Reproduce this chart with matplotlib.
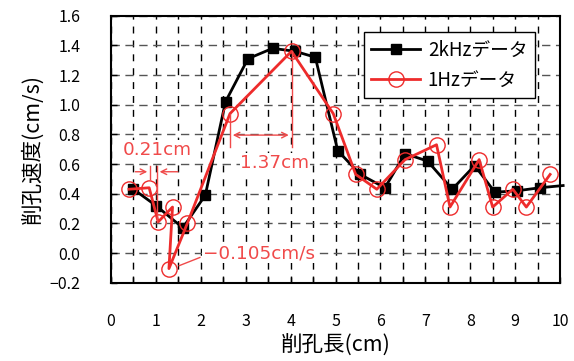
import matplotlib
matplotlib.use("Agg")
import matplotlib.pyplot as plt
from matplotlib.ticker import MultipleLocator

plt.rcParams["font.family"] = ["Noto Sans CJK JP", "DejaVu Sans"]
plt.rcParams["axes.unicode_minus"] = False

# 2kHz data (black squares)
x_2k = [0.5, 1.0, 1.6, 2.1, 2.55, 3.05, 3.6, 4.1, 4.55, 5.05, 5.55, 6.1,
        6.55, 7.05, 7.6, 8.1, 8.55, 9.05, 9.55, 10.07]
y_2k = [0.43, 0.32, 0.17, 0.39, 1.02, 1.31, 1.38, 1.36, 1.32, 0.69, 0.53, 0.44,
        0.67, 0.62, 0.43, 0.59, 0.41, 0.42, 0.44, 0.455]

# 1Hz data (red open circles)
x_1h = [0.4, 0.85, 1.05, 1.37, 1.29, 1.7, 2.65, 4.02, 4.95, 5.45, 5.92,
        6.55, 7.25, 7.55, 8.2, 8.5, 8.95, 9.25, 9.78]
y_1h = [0.43, 0.44, 0.21, 0.31, -0.105, 0.2, 0.94, 1.36, 0.94, 0.53, 0.43,
        0.63, 0.73, 0.31, 0.63, 0.31, 0.43, 0.31, 0.53]

x_ticks = list(range(0, 11))
y_ticks = [-0.2, 0.0, 0.2, 0.4, 0.6, 0.8, 1.0, 1.2, 1.4, 1.6]

RED = "#ee2b2b"
ANN = "#f04a4a"
ANN_FONT = dict(color=ANN, fontsize=13.2, family="DejaVu Sans", zorder=7,
                bbox=dict(facecolor="white", edgecolor="none", pad=0.5))

fig = plt.figure(figsize=(5.74, 3.61), dpi=100)
ax = fig.add_axes([0.1934, 0.2169, 0.7822, 0.7396])

ax.plot(x_2k, y_2k, color="black", lw=2, marker="s", markersize=7,
        markevery=list(range(len(x_2k) - 1)), clip_on=False, zorder=4,
        label="2kHzデータ")
ax.plot(x_1h, y_1h, color=RED, lw=2, marker="o", markersize=11,
        markerfacecolor="none", markeredgecolor=RED, markeredgewidth=1.0,
        zorder=5, label="1Hzデータ")

ax.set_xlim(0, 10)
ax.set_ylim(-0.2, 1.6)
ax.set_xticks(x_ticks)
ax.set_yticks(y_ticks)
ax.set_yticklabels([f"{v:.1f}".replace("-", "−") for v in y_ticks])
ax.xaxis.set_minor_locator(MultipleLocator(0.5))

ax.tick_params(axis="both", which="both", direction="in", length=4, width=1,
               labelsize=11.5, colors="black")
ax.tick_params(axis="x", pad=22)
ax.tick_params(axis="y", pad=22)

ax.grid(True, axis="x", which="both", color="black", lw=1,
        linestyle=(0, (5, 5)))
ax.grid(True, axis="y", which="major", color="#555555", lw=1,
        linestyle=(0, (6, 4)))
for s in ax.spines.values():
    s.set_linewidth(1.5)

ax.set_xlabel("削孔長(cm)", fontsize=15.5, labelpad=3)
ax.set_ylabel("削孔速度(cm/s)", fontsize=15.5, labelpad=4)

# annotations: 0.21cm
ax.plot([0.87, 0.87], [0.5, 0.59], color=ANN, lw=1, zorder=6)
ax.plot([1.02, 1.02], [0.21, 0.59], color=ANN, lw=1, zorder=6)
ax.annotate("", xy=(0.87, 0.548), xytext=(0.48, 0.548),
            arrowprops=dict(arrowstyle="->", color=ANN, lw=1), zorder=6)
ax.annotate("", xy=(1.02, 0.548), xytext=(1.55, 0.548),
            arrowprops=dict(arrowstyle="->", color=ANN, lw=1), zorder=6)
ax.text(1.04, 0.695, "0.21cm", ha="center", va="center", **ANN_FONT)

# annotations: 1.37cm
ax.plot([2.65, 2.65], [0.715, 0.94], color=ANN, lw=1, zorder=6)
ax.plot([4.02, 4.02], [0.715, 1.36], color=ANN, lw=1, zorder=6)
ax.annotate("", xy=(2.65, 0.795), xytext=(4.02, 0.795),
            arrowprops=dict(arrowstyle="<->", color=ANN, lw=1), zorder=6)
ax.text(3.65, 0.607, "1.37cm", ha="center", va="center", **ANN_FONT)

# annotations: -0.105cm/s
ax.plot([1.52, 1.98], [-0.085, -0.03], color=ANN, lw=1, zorder=6)
ax.text(2.05, 0.0, "−0.105cm/s", ha="left", va="center", **ANN_FONT)

leg = ax.legend(loc="upper right", bbox_to_anchor=(0.944, 0.939),
                borderaxespad=0, fontsize=13.5, fancybox=False,
                framealpha=1, edgecolor="black", handlelength=2.6,
                borderpad=0.4, labelspacing=0.5, handletextpad=0.4)
leg.get_frame().set_linewidth(1)
leg.set_zorder(8)

fig.savefig("out.png", dpi=100)
